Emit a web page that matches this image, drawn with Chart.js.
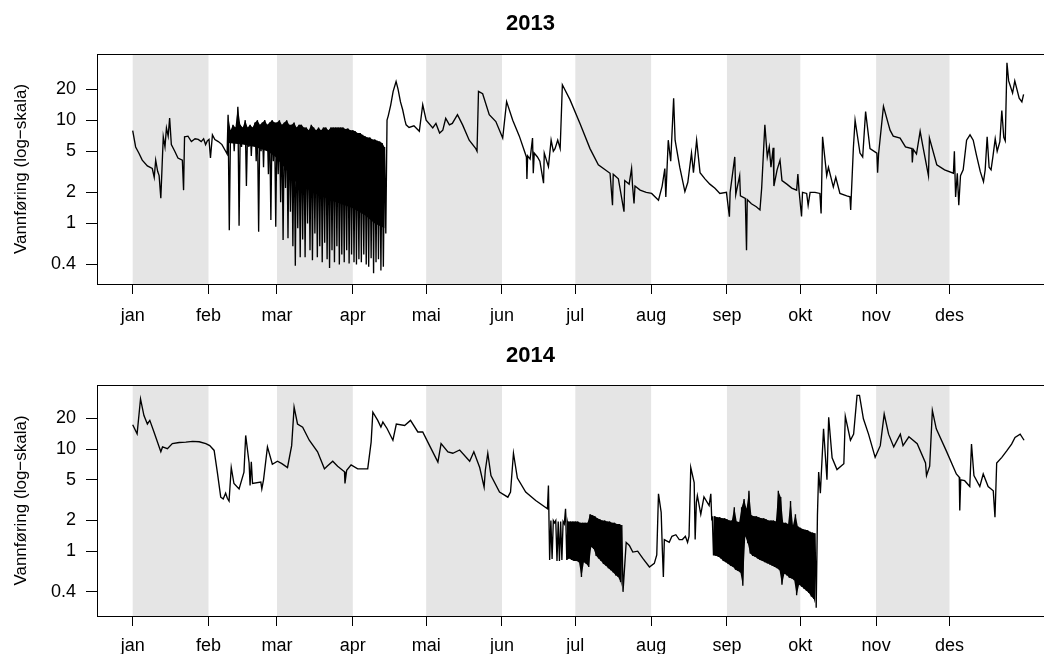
<!DOCTYPE html>
<html><head><meta charset="utf-8">
<script src="https://cdn.jsdelivr.net/npm/chart.js@4.4.1/dist/chart.umd.min.js"></script>
<style>
html,body{margin:0;padding:0;background:#fff;overflow:hidden;width:1044px;height:654px}
.panel{position:absolute;left:0;width:1044px;overflow:hidden}
canvas{display:block}
</style></head><body>
<div class="panel" style="top:0;height:331px"><canvas id="c2013" width="1158" height="331"></canvas></div>
<div class="panel" style="top:331px;height:323px"><canvas id="c2014" width="1158" height="323"></canvas></div>
<script>
// ---- categories / tick labels ----
const monthLabels = ['jan','feb','mar','apr','mai','jun','jul','aug','sep','okt','nov','des'];
const monthStarts = [0,31,59,90,120,151,181,212,243,273,304,334];   // day of year
const yearEnd = 365;
const shadedMonths = [0,2,4,6,8,10];
const yTickValues = [0.4,1,2,5,10,20];
const yLabel = 'Vannføring (log−skala)';

// ---- 2013: [day of year, discharge] ----
const obs2013 = [[0,7.9],[1.2,5.5],[2.5,4.8],[3.9,4.1],[6,3.6],[8,3.4],[8.8,2.8],[9.4,4.1],[10.2,3.2],[10.8,2.9],[11.5,1.75],[12,3.5],[12.5,6.9],[13.2,5.5],[13.8,8.4],[14.5,7.0],[15.1,10.5],[15.8,5.8],[17.2,5.0],[18.5,4.3],[20.3,4.1],[20.8,2.1],[21.2,6.9],[22.6,7.0],[24,6.2],[25.5,6.6],[26.8,6.5],[28,6.2],[29,6.6],[29.8,5.8],[30.5,6.3],[31.2,6.5],[31.8,4.3],[32.6,7.2],[33.6,6.5],[35,6.2],[36.5,5.8],[38,5.0],[38.6,4.7],
[104,10],[104.5,11],[105.5,14],[106.5,19],[107.7,23.7],[108.5,20],[109.5,15],[110.4,12.6],[111.3,10],[111.8,9.0],[113,8.5],[115,8.8],[117.2,7.8],[118.6,14.1],[120,10],[122.7,8.4],[124,9.3],[125.5,7.5],[126.8,8.0],[128,10.4],[129.5,9.0],[130.7,9.3],[132.8,11.3],[134.9,9.0],[137.6,6.4],[140.3,5.3],[140.8,5.0],[141.4,19],[143.1,18],[145.8,11.3],[148.5,9.7],[151.3,6.7],[152.9,15.1],[155.4,10],[158.1,7.0],[161,4.4],[161.2,2.7],[161.5,4.5],[162.5,4.2],[163.5,6.7],[163.8,3.06],[164.2,4.8],[165.5,4.4],[166.5,4.0],[168,2.45],[168.3,4.8],[170,3.55],[171.1,6.4],[172,5.0],[172.7,5.3],[173.8,6.4],[174.8,5.3],[175.7,22],[178.8,15.8],[182.9,9.3],[187,5.3],[190.4,3.7],[195.2,3.06],[196.2,1.5],[196.5,3.0],[198.6,2.7],[200.9,1.3],[201.2,2.6],[203,2.4],[204,3.4],[204.4,2.3],[205,1.56],[205.4,2.3],[207.5,2.1],[210,2.0],[212.2,1.95],[215,1.68],[216.5,2.3],[217.6,3.4],[218,1.8],[219,6.4],[220,4.0],[221.2,16.3],[221.8,6.4],[223.7,3.5],[225.8,2.03],[227,2.5],[228.5,4.8],[229.3,3.1],[230.6,6.4],[232,3.1],[234,2.7],[236,2.4],[238.1,2.19],[240.1,1.95],[242.8,2.0],[244,1.16],[244.3,2.0],[246.2,4.4],[246.6,1.9],[248.2,2.9],[248.5,1.85],[250.5,1.75],[251,0.55],[251.3,1.7],[253,1.55],[255,1.45],[256.5,1.35],[257.2,2.2],[258.5,9.0],[259.5,4.4],[260.3,5.5],[261,3.5],[261.9,5.4],[262.2,2.3],[263.5,3.3],[264.7,4.1],[265.5,2.6],[267.5,2.4],[269.5,2.2],[271.5,2.1],[272,3.0],[272.5,2.05],[273.5,1.17],[273.9,2.0],[275.6,1.95],[276.2,1.5],[277,2.0],[279,2.0],[281,1.95],[281.5,1.25],[282.1,6.9],[283.8,2.9],[284.5,3.5],[286.5,2.25],[287.5,2.8],[289.2,1.95],[292,1.85],[293.3,1.81],[293.6,1.35],[294.7,5.4],[295.4,10],[297.4,4.8],[298.5,4.4],[299.7,12.1],[301.5,5.3],[304.3,4.8],[304.6,3.1],[305,4.7],[307,13.6],[309.7,8.0],[311,7.0],[313.8,6.7],[316,5.5],[318.6,5.3],[318.8,3.9],[319.2,5.2],[320.5,4.7],[322,7.8],[323.3,5.3],[325.4,2.9],[325.8,6.7],[328.8,3.7],[332,3.3],[335.6,3.06],[336,5.0],[336.5,1.8],[337.2,3.06],[337.8,1.5],[338.5,2.9],[339.6,3.3],[341,6.4],[342.4,7.2],[343.7,6.4],[345,4.6],[346.6,3.17],[347.9,2.53],[348.6,3.3],[349.4,6.9],[350.2,3.5],[351,3.3],[351.8,4.5],[352.7,6.6],[353.5,5.0],[354.6,6.2],[355.4,12.4],[356.2,6.8],[356.8,6.3],[357.5,36],[358.2,24],[359.8,18.3],[360.7,24],[362.5,16.3],[363.6,15],[364.3,17.8]];
// 2013 regulated period: daily high / low, from day 39
const osc2013Start = 39;
const osc2013High = [11.3,8.0,9.0,8.5,13.5,9.0,8.5,10,8.5,9.0,8.5,9.5,10,9.0,9.5,10,9.0,9.5,10,9.5,9.5,10,9.0,9.5,10,9.0,9.0,9.5,8.5,9.0,9.0,8.5,8.5,8.0,9.0,8.5,8.0,8.5,8.0,8.5,8.5,8.0,8.5,8.5,8.5,8.5,8.5,8.5,8.2,8.3,8.0,8.0,7.8,7.5,7.5,7.2,7.0,6.8,6.8,6.5,6.5,6.3,6.2,6.0,5.5];
const osc2013Low  = [0.86,6.0,5.0,6.5,0.95,5.5,6.0,2.3,5.5,4.5,6.0,4.0,0.83,5.0,3.5,5.5,3.0,1.08,4.0,0.93,3.0,1.6,0.69,2.2,0.72,1.3,0.6,0.39,0.9,0.47,0.7,0.47,1.0,0.55,0.44,0.8,0.47,0.6,0.42,0.65,0.45,0.37,0.55,0.42,0.6,0.4,0.5,0.42,0.55,0.41,0.5,0.42,0.4,0.45,0.42,0.5,0.4,0.38,0.46,0.33,0.42,0.45,0.35,0.38,0.8];
// lower edge of the solid dark band in that period [day, discharge]
const dense2013Floor = [[39,6.0],[45,5.8],[50,5.5],[55,5.0],[58,4.5],[62,3.5],[66,2.6],[70,2.2],[75,2.0],[80,1.7],[85,1.55],[90,1.4],[95,1.2],[99,1.0],[103,0.9]];

// ---- 2014 ----
const obs2014 = [[0,17.3],[1.8,14.1],[3.2,31],[4.6,21.3],[6,17.6],[7,19.1],[8.7,14.7],[11.5,9.4],[12.2,10.5],[14.2,10.1],[16.2,11.3],[19,11.6],[21.7,11.7],[24.5,11.9],[27.2,11.8],[29.9,11.3],[31.5,10.8],[33.3,9.7],[34.6,5.95],[36,3.38],[37,3.25],[38,3.7],[38.7,3.3],[39.4,3.1],[40.3,6.6],[41.4,4.6],[43.5,4.07],[45.5,5.95],[46.2,13.6],[47.6,7.3],[48,4.4],[48.5,7.5],[49,4.6],[52.4,4.75],[52.8,4.07],[53.5,5.0],[55.1,10.5],[57.1,7.1],[59.2,7.6],[61,7.2],[63.3,6.6],[65,10.8],[66,25.7],[67.4,17.6],[69.5,16.4],[72.2,12.2],[75.6,9.4],[78.4,6.4],[79.5,6.8],[81.8,7.6],[83.8,6.8],[86.6,6.0],[86.8,4.6],[87.5,6.2],[89.3,7.0],[92,6.4],[96.1,6.4],[97.5,11.7],[98.2,23],[100.2,19.1],[101.5,16.4],[102.3,18.4],[104,15.9],[106.4,12.2],[107.8,17.6],[111.2,17.0],[113.6,19.1],[116.6,14.7],[118.6,14.7],[121.4,10.8],[124.8,7.45],[126.1,11.3],[128.9,9.4],[130.9,9.1],[133.7,9.8],[137.8,7.6],[139.5,9.4],[141.9,6.6],[143.7,4.24],[144.2,6.2],[145.2,9.1],[146.5,5.5],[150,3.79],[153.4,3.38],[154.5,3.79],[155.7,9.1],[157.3,5.2],[160.7,3.79],[164.8,3.14],[169.6,2.6],
[201.8,1.22],[203.1,1.14],[204.5,0.98],[206.5,1.0],[208.6,0.85],[211.3,0.70],[213.3,0.76],[214.3,0.92],[215,3.65],[216.1,2.4],[216.6,1.0],[217,0.56],[217.4,1.3],[219.4,1.22],[220.5,1.4],[222.1,1.45],[223.5,1.3],[224.8,1.3],[226,1.4],[226.9,1.22],[227.5,1.4],[228.2,6.6],[229.6,4.7],[230,1.3],[230.5,3.0],[230.9,3.5],[232.3,2.3],[233.6,3.4],[235.7,2.8],[236.4,3.65],[236.8,2.0],
[280,2.24],[280.5,5.95],[281.2,3.7],[282.5,15.8],[283.9,5.0],[284.6,20.5],[286,8.2],[288,6.3],[290.8,7.2],[291.4,20.9],[293.5,12.2],[294.8,14.0],[296.2,33.5],[297.2,33.5],[298.8,19.8],[300.9,14],[303.6,8.3],[305.7,10.8],[307.3,22],[309.1,14],[311.2,10.5],[313.9,14],[315,10.8],[317.4,13.2],[320.8,11.3],[324.2,7.3],[324.6,5.5],[325.9,6.8],[327,23.9],[328.6,15.8],[332.7,9.6],[336.8,5.7],[338,5.3],[338.2,2.5],[338.6,5.0],[340.2,4.9],[342.3,4.3],[343,11.2],[344,5.5],[346.4,4.3],[347.8,5.7],[349.8,4.3],[351.9,3.9],[352.6,2.15],[353.3,7.3],[355.4,8.3],[357.4,9.6],[359.4,11.2],[360.8,13.0],[362.9,14],[364.5,12.2]];
// 2014 regulated periods: daily high / low
const spike2014Start = 170;
const spike2014High = [4.4,2.0,2.0,2.0,1.95,1.95,1.95];
const spike2014Low  = [0.82,0.84,1.9,0.8,0.8,0.82,1.85];
const oscA2014Start = 177;
const oscA2014High = [2.6,1.95,1.95,1.95,1.95,1.95,1.9,1.9,1.9,1.9,2.3,2.25,2.2,2.1,2.05,2.0,2.0,1.95,1.95,1.9,1.9,1.85,1.85,1.8];
const oscA2014Low  = [0.82,0.85,0.82,0.8,0.8,0.78,0.56,0.78,0.75,0.7,1.1,1.05,0.9,0.85,0.8,0.75,0.72,0.68,0.65,0.62,0.58,0.56,0.5,0.4];
const oscB2014Start = 237;
const oscB2014High = [2.2,2.2,2.15,2.15,2.1,2.1,2.05,2.0,2.0,2.7,1.95,1.93,2.7,3.25,2.6,3.9,2.25,2.2,2.2,2.15,2.1,2.1,2.05,2.0,2.0,2.0,1.95,3.9,3.4,1.9,1.9,1.85,3.1,1.8,2.3,1.75,1.7,1.65,1.62,1.6,1.55,1.52,1.5];
const oscB2014Low  = [0.91,0.9,0.88,0.85,0.8,0.78,0.75,0.72,0.7,0.66,0.64,0.62,0.46,1.4,1.2,0.95,0.9,0.88,0.85,0.82,0.8,0.78,0.76,0.74,0.72,0.7,0.68,0.65,0.47,0.6,0.58,0.55,0.54,0.52,0.37,0.47,0.45,0.43,0.41,0.39,0.36,0.34,0.28];

// ---- build series tables ----
function highPts(start, hi) { return hi.map((v, i) => ({x: start + i, y: v})); }
function lowPts(start, lo) { return lo.map((v, i) => ({x: start + i + 0.5, y: v})); }
function series(obs, oscs) {
  let pts = obs.map(p => ({x: p[0], y: p[1]}));
  oscs.forEach(o => { pts = pts.concat(highPts(o[0], o[1]), lowPts(o[0], o[2])); });
  pts.sort((a, b) => a.x - b.x);
  return pts;
}
const data2013 = series(obs2013, [[osc2013Start, osc2013High, osc2013Low]]);
const data2014 = series(obs2014, [[spike2014Start, spike2014High, spike2014Low],
                                  [oscA2014Start, oscA2014High, oscA2014Low],
                                  [oscB2014Start, oscB2014High, oscB2014Low]]);

// shaded envelope datasets for the dense regulated periods (upper -> lower)
function envelope(upper, lower) {
  return [
    {data: upper, borderWidth: 0, pointRadius: 0, borderColor: 'rgba(0,0,0,0)', backgroundColor: '#000', fill: '+1', tension: 0},
    {data: lower, borderWidth: 0, pointRadius: 0, borderColor: 'rgba(0,0,0,0)', fill: false, tension: 0}
  ];
}
const env2013 = envelope(highPts(osc2013Start, osc2013High), dense2013Floor.map(p => ({x: p[0], y: p[1]})));
const env2014 = envelope(highPts(oscA2014Start, oscA2014High), lowPts(oscA2014Start, oscA2014Low))
  .concat(envelope(highPts(oscB2014Start, oscB2014High), lowPts(oscB2014Start, oscB2014Low)));

const FONT = '"Liberation Sans", Arial, Helvetica, sans-serif';

const bandPlugin = {
  id: 'monthBands',
  beforeDraw(chart) {
    const {ctx, chartArea: a, scales: {x}} = chart;
    ctx.save();
    ctx.fillStyle = '#e5e5e5';
    shadedMonths.forEach(m => {
      const end = m + 1 < monthStarts.length ? monthStarts[m + 1] : yearEnd;
      const x0 = x.getPixelForValue(monthStarts[m]);
      const x1 = x.getPixelForValue(end);
      ctx.fillRect(x0, a.top, x1 - x0, a.bottom - a.top);
    });
    ctx.restore();
  }
};
const boxPlugin = {
  id: 'plotBox',
  afterDraw(chart) {
    const {ctx, chartArea: a} = chart;
    ctx.save();
    ctx.strokeStyle = '#000';
    ctx.lineWidth = 1;
    ctx.strokeRect(Math.round(a.left) + 0.5, Math.round(a.top) + 0.5, Math.round(a.right - a.left), Math.round(a.bottom - a.top));
    ctx.restore();
  }
};

function makeChart(id, title, pts, envs, yMin, yMax, xAxisH, xPad, titleTop, titleBottom) {
  return new Chart(document.getElementById(id), {
    type: 'line',
    data: {datasets: [{data: pts, borderColor: '#000', borderWidth: 1.35, pointRadius: 0, tension: 0, fill: false}].concat(envs)},
    options: {
      responsive: false,
      animation: false,
      events: [],
      layout: {padding: {left: 0, right: 97, top: 0, bottom: 0}},
      plugins: {
        legend: {display: false},
        tooltip: {enabled: false},
        filler: {propagate: false},
        title: {display: true, text: title, color: '#000',
                font: {family: FONT, size: 22, weight: 'bold'},
                padding: {top: titleTop, bottom: titleBottom}}
      },
      scales: {
        x: {
          type: 'linear', min: -14.6, max: 379.6,
          afterBuildTicks: s => { s.ticks = monthStarts.map(v => ({value: v})); },
          afterFit: s => { s.height = xAxisH; },
          ticks: {callback: v => monthLabels[monthStarts.indexOf(v)], color: '#000',
                  font: {family: FONT, size: 18}, padding: xPad, maxRotation: 0, autoSkip: false},
          grid: {drawOnChartArea: false, tickLength: 10, color: '#000', lineWidth: 1},
          border: {display: true, color: '#000', width: 1}
        },
        y: {
          type: 'logarithmic', min: yMin, max: yMax,
          afterBuildTicks: s => { s.ticks = yTickValues.map(v => ({value: v})); },
          afterFit: s => { s.width = 97; },
          ticks: {callback: v => String(v), color: '#000', font: {family: FONT, size: 18}, padding: 10, autoSkip: false},
          grid: {drawOnChartArea: false, tickLength: 11, color: '#000', lineWidth: 1},
          border: {display: true, color: '#000', width: 1},
          title: {display: true, text: yLabel, color: '#000', font: {family: FONT, size: 17}, padding: {top: 11, bottom: 0}}
        }
      }
    },
    plugins: [bandPlugin, boxPlugin]
  });
}

makeChart('c2013', '2013', data2013, env2013, 0.259, 43.7, 47, 11, 11, 16.6);
makeChart('c2014', '2014', data2014, env2014, 0.232, 42.4, 38, 9, 12, 15.6);
</script></body></html>
